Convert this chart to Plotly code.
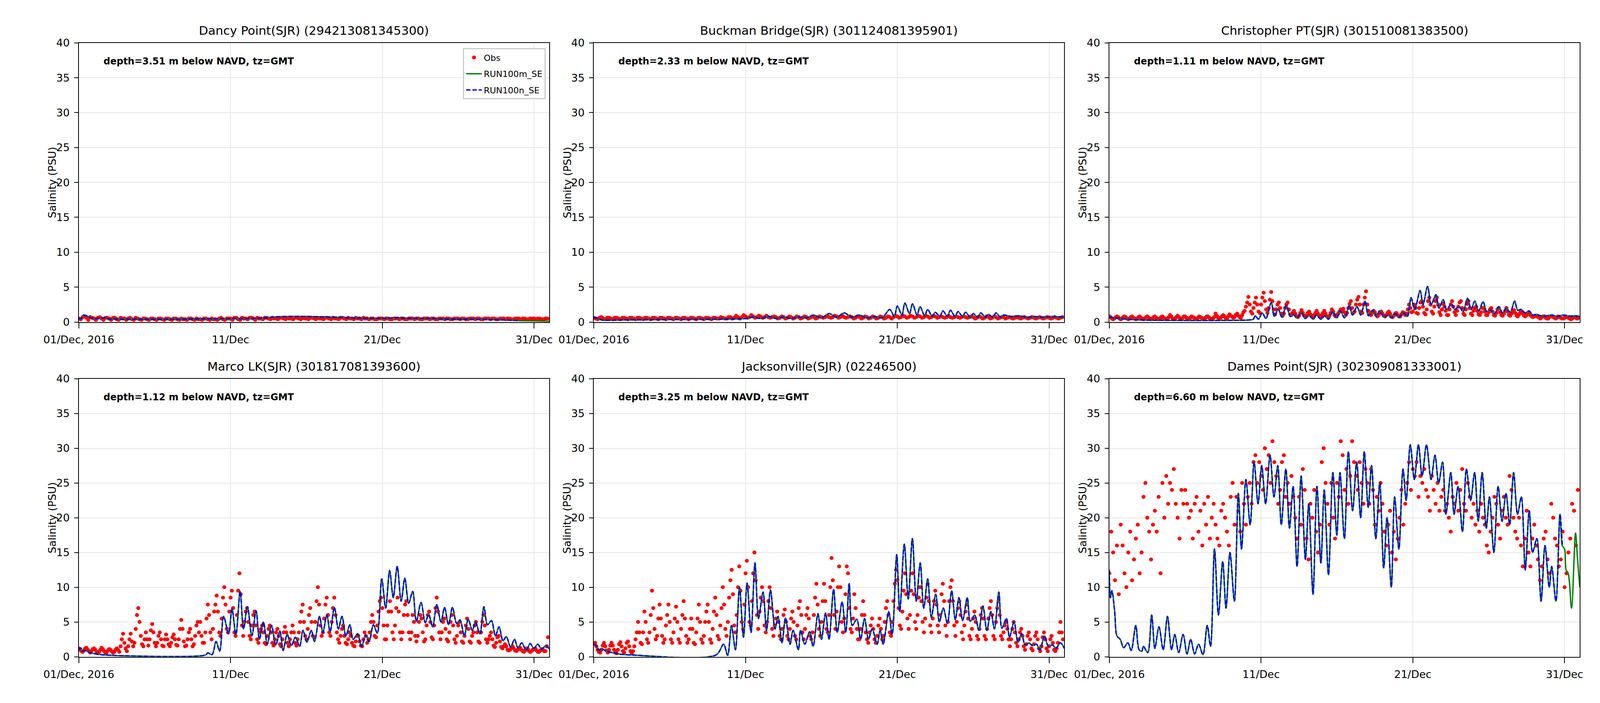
import numpy as np
import pandas as pd
import plotly.graph_objects as go
from plotly.subplots import make_subplots

# ---------------- DATA ----------------
titles = [
    "Dancy Point(SJR) (294213081345300)",
    "Buckman Bridge(SJR) (301124081395901)",
    "Christopher PT(SJR) (301510081383500)",
    "Marco LK(SJR) (301817081393600)",
    "Jacksonville(SJR) (02246500)",
    "Dames Point(SJR) (302309081333001)",
]
depths = ["3.51", "2.33", "1.11", "1.12", "3.25", "6.60"]
series_names = ["Obs", "RUN100m_SE", "RUN100n_SE"]
xtick_days = [1, 11, 21, 31]
xtick_text = ["01/Dec, 2016", "11/Dec", "21/Dec", "31/Dec"]
ytick_vals = [0, 5, 10, 15, 20, 25, 30, 35, 40]

# observations, one row per day (Dec 1 .. Dec 31); 3-hourly rows (8) or 2-hourly rows (12)
dancy_obs = [
    [0.5,0.4,0.7,0.8,0.6,0.3,0.7,0.6],[0.5,0.3,0.6,0.7,0.5,0.3,0.6,0.6],
    [0.5,0.3,0.6,0.6,0.4,0.3,0.6,0.5],[0.5,0.3,0.5,0.6,0.4,0.3,0.6,0.5],
    [0.4,0.3,0.5,0.5,0.4,0.3,0.5,0.5],[0.4,0.3,0.5,0.5,0.4,0.3,0.5,0.5],
    [0.4,0.3,0.5,0.5,0.4,0.3,0.5,0.4],[0.4,0.3,0.5,0.5,0.4,0.3,0.5,0.4],
    [0.4,0.3,0.5,0.5,0.4,0.3,0.5,0.4],[0.4,0.3,0.5,0.6,0.4,0.3,0.5,0.5],
    [0.5,0.3,0.6,0.6,0.4,0.3,0.6,0.5],[0.5,0.4,0.6,0.6,0.5,0.3,0.6,0.5],
    [0.5,0.4,0.6,0.6,0.5,0.4,0.6,0.5],[0.5,0.4,0.6,0.6,0.5,0.4,0.6,0.5],
    [0.5,0.4,0.6,0.6,0.5,0.4,0.6,0.5],[0.5,0.4,0.6,0.6,0.5,0.4,0.6,0.5],
    [0.5,0.4,0.6,0.6,0.5,0.4,0.6,0.5],[0.5,0.4,0.6,0.6,0.5,0.4,0.6,0.5],
    [0.5,0.4,0.6,0.5,0.5,0.4,0.6,0.5],[0.5,0.4,0.5,0.5,0.4,0.4,0.5,0.5],
    [0.5,0.4,0.5,0.5,0.4,0.4,0.5,0.5],[0.5,0.4,0.5,0.5,0.4,0.4,0.5,0.5],
    [0.5,0.4,0.5,0.5,0.4,0.4,0.5,0.5],[0.5,0.4,0.5,0.5,0.4,0.4,0.5,0.5],
    [0.5,0.4,0.5,0.5,0.4,0.4,0.5,0.5],[0.5,0.4,0.5,0.5,0.4,0.4,0.5,0.5],
    [0.5,0.4,0.5,0.5,0.4,0.4,0.5,0.5],[0.5,0.4,0.5,0.5,0.4,0.4,0.5,0.5],
    [0.5,0.4,0.5,0.5,0.4,0.4,0.5,0.5],[0.5,0.4,0.5,0.5,0.4,0.4,0.5,0.5],
    [0.5,0.4,0.5,0.5,0.4,0.4,0.5,0.5],
]
buckman_obs = [
    [0.6,0.5,0.4,0.6,0.7,0.5,0.4,0.6],[0.6,0.5,0.4,0.6,0.6,0.5,0.4,0.6],
    [0.6,0.5,0.4,0.6,0.6,0.5,0.4,0.6],[0.6,0.5,0.4,0.6,0.6,0.5,0.4,0.6],
    [0.6,0.5,0.4,0.6,0.6,0.5,0.4,0.6],[0.6,0.5,0.4,0.6,0.6,0.5,0.4,0.6],
    [0.6,0.5,0.4,0.6,0.6,0.5,0.4,0.6],[0.6,0.5,0.4,0.6,0.6,0.5,0.4,0.6],
    [0.6,0.5,0.5,0.7,0.6,0.5,0.5,0.7],[0.7,0.5,0.6,0.9,0.7,0.5,0.7,1.0],
    [0.8,0.6,0.7,1.0,0.8,0.6,0.7,0.9],[0.8,0.6,0.7,0.9,0.7,0.6,0.7,0.8],
    [0.7,0.5,0.6,0.8,0.7,0.5,0.6,0.8],[0.7,0.5,0.6,0.8,0.7,0.5,0.6,0.8],
    [0.7,0.5,0.6,0.8,0.7,0.5,0.6,0.8],[0.7,0.6,0.7,0.9,0.7,0.6,0.7,0.9],
    [0.8,0.6,0.7,0.9,0.7,0.6,0.7,0.8],[0.7,0.5,0.6,0.8,0.7,0.5,0.6,0.8],
    [0.7,0.5,0.6,0.8,0.7,0.5,0.6,0.8],[0.7,0.5,0.6,0.8,0.7,0.5,0.7,0.9],
    [0.8,0.6,0.7,0.9,0.8,0.6,0.7,0.9],[0.8,0.6,0.7,0.9,0.8,0.6,0.7,0.9],
    [0.8,0.6,0.7,0.9,0.8,0.6,0.7,0.8],[0.7,0.6,0.7,0.9,0.7,0.6,0.7,0.8],
    [0.7,0.6,0.7,0.8,0.7,0.6,0.7,0.8],[0.7,0.5,0.6,0.8,0.7,0.5,0.6,0.8],
    [0.7,0.5,0.6,0.8,0.7,0.5,0.6,0.7],[0.7,0.5,0.6,0.7,0.6,0.5,0.6,0.7],
    [0.6,0.5,0.6,0.7,0.6,0.5,0.6,0.7],[0.6,0.5,0.6,0.7,0.6,0.5,0.6,0.7],
    [0.6,0.5,0.6,0.7,0.6,0.5,0.6,0.7],
]
christopher_obs = [
    [0.8,0.7,0.5,0.4,0.5,0.7,0.8,0.7,0.5,0.4,0.5,0.7],[0.8,0.7,0.5,0.4,0.5,0.7,0.8,0.6,0.5,0.4,0.5,0.7],
    [0.8,0.6,0.5,0.4,0.5,0.7,0.8,0.6,0.5,0.4,0.5,0.7],[0.8,0.6,0.5,0.4,0.5,0.7,0.8,0.6,0.5,0.4,0.5,0.7],
    [1.0,0.8,0.5,0.4,0.5,0.7,0.9,0.7,0.5,0.4,0.6,0.8],[0.8,0.6,0.5,0.4,0.6,0.8,0.7,0.6,0.5,0.4,0.6,0.8],
    [0.7,0.6,0.5,0.4,0.6,0.8,0.8,0.6,0.5,0.4,0.5,0.7],[1.2,0.9,0.6,0.5,0.6,0.8,1.0,0.8,0.6,0.5,0.8,1.1],
    [0.9,0.8,0.6,0.7,1.0,1.2,0.9,0.7,0.6,1.0,1.4,1.6],[2.2,2.8,3.6,2.5,1.5,1.2,2.0,2.8,3.5,2.5,1.5,1.3],
    [2.5,3.5,4.2,3.0,1.8,1.3,2.0,3.2,4.3,3.0,1.8,1.1],[1.8,2.5,2.8,2.0,1.2,0.9,1.2,2.0,2.5,2.8,1.8,1.1],
    [1.0,1.3,1.6,1.2,0.8,0.7,0.9,1.3,1.7,1.3,0.9,0.7],[1.0,1.3,1.5,1.1,0.8,0.7,1.0,1.3,1.6,1.2,0.9,0.7],
    [1.0,1.3,1.6,1.2,0.8,0.7,0.9,1.3,1.8,1.5,1.0,0.8],[1.0,1.2,1.5,1.8,1.6,1.9,1.4,1.0,1.3,2.0,2.6,3.0],
    [2.0,1.3,1.5,2.5,3.2,3.6,2.5,1.5,1.3,2.5,3.5,4.4],[2.5,1.6,1.1,1.0,1.3,1.6,1.4,1.0,0.8,1.0,1.3,1.5],
    [1.2,0.9,0.8,1.0,1.3,1.5,1.2,0.8,0.7,0.9,1.2,1.3],[1.0,0.8,0.8,1.1,1.4,1.3,1.0,1.2,1.8,2.5,2.0,1.4],
    [1.5,2.5,2.0,1.3,1.2,2.0,2.8,3.0,2.2,1.3,1.1,1.8],[3.0,3.5,2.5,1.5,1.2,2.2,3.0,3.5,2.5,1.4,1.0,1.8],
    [2.6,2.2,1.6,1.0,1.0,1.8,2.5,3.0,2.2,1.4,1.0,1.6],[2.2,2.8,3.0,2.0,1.2,1.0,1.8,2.6,3.0,2.0,1.2,1.0],
    [1.6,2.0,2.2,1.6,1.1,1.0,1.4,2.0,2.0,1.5,1.0,1.0],[1.4,1.8,2.0,1.5,1.0,0.9,1.3,1.8,2.0,1.4,1.0,0.9],
    [1.2,1.6,2.0,1.5,1.0,0.9,1.2,1.6,1.7,1.3,0.9,0.8],[1.1,1.4,1.5,1.2,0.9,0.8,1.0,1.3,1.2,1.0,0.8,0.7],
    [0.8,0.9,0.9,0.7,0.6,0.5,0.7,0.8,0.8,0.6,0.5,0.5],[0.7,0.8,0.8,0.7,0.6,0.5,0.6,0.8,0.7,0.6,0.5,0.5],
    [0.6,0.8,0.7,0.6,0.5,0.4,0.5,0.7,0.7,0.6,0.5,0.6],
]
marco_obs = [
    [1.2,1.0,0.8,0.7,0.9,1.2,1.3,1.0,0.8,0.6,0.8,1.1],[1.2,1.0,0.7,0.5,0.7,1.0,1.3,1.1,0.8,0.5,0.6,0.9],
    [1.1,1.0,0.8,0.6,0.7,1.0,1.2,1.0,0.7,1.5,2.5,3.3],[2.0,1.2,0.8,1.5,2.5,3.3,2.2,1.5,2.0,4.0,6.0,7.0],
    [5.0,3.0,1.8,1.5,2.5,3.5,2.5,1.6,2.5,3.8,4.7,3.5],[2.0,1.5,2.0,3.0,3.5,2.5,1.6,1.5,2.5,3.2,2.5,1.8],
    [1.5,2.0,2.8,3.2,2.5,1.7,1.6,2.5,4.0,5.3,4.0,2.2],[1.5,1.6,2.5,3.5,4.0,2.5,1.5,1.8,3.0,4.5,5.0,3.5],
    [5.0,3.0,2.0,2.0,3.5,5.5,7.5,6.0,3.5,2.5,4.0,6.5],[7.5,8.8,6.5,3.5,3.0,5.5,8.5,10.0,7.5,4.0,3.5,6.5],
    [8.5,9.5,7.0,3.5,3.0,6.0,9.5,12.0,9.0,4.5,3.0,5.0],[6.5,7.0,5.0,3.0,2.5,4.5,6.0,6.5,4.5,2.5,2.0,3.5],
    [4.0,4.5,3.5,2.0,1.8,3.0,4.0,4.5,3.5,2.0,1.6,2.5],[3.5,4.0,3.0,1.8,1.5,2.5,3.5,4.3,3.5,2.0,1.5,2.5],
    [3.5,4.5,3.5,2.0,1.6,2.5,3.5,5.0,6.5,7.5,5.0,3.0],[2.5,4.0,6.0,7.0,5.0,3.0,2.8,5.0,8.0,10.0,7.5,4.5],
    [3.0,3.5,5.5,7.5,8.5,6.0,3.5,3.0,5.0,7.0,8.5,6.0],[3.5,2.5,2.0,3.0,4.0,4.5,3.0,2.0,1.8,2.5,3.5,3.0],
    [2.0,1.6,1.5,2.2,3.0,3.0,2.2,1.6,1.5,2.5,3.5,3.0],[2.0,2.5,3.5,5.0,6.0,5.0,3.0,2.8,4.5,6.5,8.0,8.5],
    [7.0,4.5,2.5,2.5,4.5,6.5,8.0,6.5,3.5,2.5,4.5,7.0],[8.5,6.5,3.5,2.5,3.5,6.0,7.5,8.0,6.0,3.5,2.5,3.5],
    [6.0,5.0,3.0,2.2,3.0,5.0,6.0,5.5,3.5,2.2,2.5,4.5],[6.0,6.5,5.0,2.8,2.5,4.5,7.0,8.5,6.5,3.5,2.5,3.5],
    [5.0,5.5,4.0,2.5,2.2,3.5,5.0,6.0,4.5,2.5,2.0,3.0],[4.5,5.0,3.5,2.2,2.0,3.0,4.5,5.5,4.0,2.2,2.0,3.0],
    [3.5,4.5,5.0,3.5,2.2,2.0,3.5,5.0,6.0,4.5,2.5,2.0],[2.5,3.0,3.5,2.5,1.6,1.4,2.0,2.8,3.0,2.2,1.4,1.2],
    [1.5,1.8,1.5,1.0,0.9,1.0,1.3,1.5,1.2,0.9,0.8,1.0],[1.2,1.3,1.0,0.8,0.7,0.9,1.2,1.1,0.8,0.7,0.8,1.0],
    [1.1,1.2,0.9,0.7,0.7,0.9,1.1,1.0,0.8,0.8,1.5,2.8],
]
jax_obs = [
    [1.8,2.0,1.5,1.0,0.7,0.6,1.0,1.6,2.0,1.5,0.9,0.6],[1.0,1.6,2.0,1.6,1.0,0.6,0.5,1.0,1.8,2.1,1.5,0.8],
    [0.6,1.2,2.0,2.2,1.5,0.8,0.5,0.8,1.5,2.5,3.5,5.0],[3.5,2.0,1.8,3.5,6.5,5.0,2.5,2.0,3.5,6.0,9.5,7.0],
    [4.0,2.5,3.0,5.5,7.5,5.5,3.0,2.0,2.5,4.5,6.0,7.5],[5.0,2.5,2.0,3.5,5.5,7.2,5.0,2.5,2.0,4.0,6.0,8.0],
    [5.5,3.0,2.0,2.5,4.0,5.5,4.0,2.0,1.8,3.5,5.5,7.5],[5.0,2.5,2.0,3.0,5.0,6.5,7.5,5.0,2.5,2.0,4.0,6.5],
    [8.5,6.0,3.0,2.5,4.5,7.0,10.0,7.5,4.0,3.0,5.0,8.5],[11.0,12.5,9.0,4.5,3.5,6.0,10.0,13.0,9.5,5.0,4.0,7.5],
    [12.0,13.8,10.0,5.0,4.5,8.0,12.0,15.0,11.0,6.0,4.0,6.5],[8.5,10.0,8.0,4.5,3.5,5.0,8.0,10.0,7.0,4.0,3.0,4.5],
    [5.5,6.5,5.0,3.0,2.5,4.0,6.0,6.8,5.0,3.0,2.5,4.0],[5.5,6.5,5.0,3.0,2.5,4.5,7.0,8.0,6.0,3.5,2.5,4.0],
    [6.0,7.0,5.5,3.0,2.5,3.5,6.0,8.5,10.5,7.5,4.0,3.0],[5.0,8.0,10.5,8.0,4.0,3.5,6.0,10.0,14.2,11.0,6.0,4.0],
    [6.5,10.0,13.0,10.0,5.0,3.5,5.5,9.0,13.0,12.0,7.0,4.0],[3.5,5.5,9.0,7.0,4.0,2.5,2.5,4.0,6.0,8.0,6.0,3.5],
    [2.5,2.0,3.5,4.5,5.5,4.0,2.5,2.0,3.0,4.5,5.5,4.0],[2.5,3.0,5.0,7.0,8.0,6.0,3.5,3.0,5.0,8.0,10.5,12.5],
    [11.0,7.0,4.5,4.0,6.5,9.5,12.0,9.0,5.5,4.0,6.0,9.5],[12.0,9.0,5.0,4.0,6.0,8.5,10.0,8.0,5.0,3.5,5.5,8.5],
    [10.5,8.0,4.5,3.5,5.5,8.0,9.5,7.5,4.5,3.5,6.0,9.0],[10.5,8.0,4.5,3.0,5.0,8.0,10.0,11.0,8.0,4.5,3.0,5.0],
    [7.0,8.0,6.0,3.5,2.5,4.5,6.5,7.5,5.5,3.0,2.5,4.0],[5.5,6.5,5.0,3.0,2.5,4.0,6.0,7.0,5.5,3.0,2.5,4.0],
    [5.5,7.0,8.0,6.0,3.0,2.5,5.0,7.0,8.0,6.0,3.0,2.5],[3.5,4.5,5.0,4.0,2.5,1.5,2.5,4.0,5.0,3.5,2.0,1.5],
    [2.5,3.5,4.0,3.0,1.5,1.0,1.8,3.0,3.5,2.5,1.2,0.9],[1.8,3.0,3.5,2.5,1.2,0.8,1.5,2.8,3.5,2.5,1.2,0.8],
    [1.5,2.5,3.0,2.0,1.0,0.8,1.2,2.0,3.5,5.0,3.5,2.5],
]
dames_obs = [
    [12,18,15,11,16,9,19,16],[12,10,15,18,11,14,17,19],
    [12,15,23,25,20,18,14,19],[21,18,23,12,25,20,26,22],
    [25,24,27,22,20,17,24,22],[24,22,20,21,17,22,23,18],
    [21,16,22,19,23,17,20,22],[19,17,16,21,22,20,18,16],
    [23,25,19,23,21,18,25,22],[19,23,25,22,28,29,25,28],
    [26,24,30,27,29,25,31,28],[26,22,24,28,29,23,25,22],
    [26,23,20,17,23,19,27,24],[17,14,22,20,24,18,15,19],
    [28,30,25,22,19,25,20,17],[25,23,31,29,24,27,22,26],
    [31,28,26,24,28,25,22,27],[25,22,27,24,19,23,21,25],
    [22,18,16,19,21,15,18,14],[17,20,24,19,22,25,28,24],
    [27,26,28,23,26,25,27,24],[23,21,26,24,22,25,21,23],
    [24,21,22,20,18,23,22,25],[21,24,27,22,21,25,23,20],
    [22,19,21,18,22,20,19,16],[15,18,20,23,22,19,17,21],
    [23,20,19,26,24,20,18,17],[20,16,13,17,21,15,13,17],
    [19,16,14,11,13,17,18,14],[12,22,20,17,16,13,14,18],
    [10,12,15,17,22,21,16,24],
]

# model series: (day of December, salinity) at turning points
dancy_day = [1.0,1.15,1.3,1.5,1.8,2.2,2.6,3.0,5.0,7.0,9.0,11.0,12.0,13.0,14.0,15.0,16.0,17.0,
             18.0,19.0,20.0,21.0,22.0,23.0,24.0,25.0,26.0,27.0,28.0,29.0,30.0,31.0,32.0]
dancy_val = [0.5,0.5,1.0,0.9,0.6,0.5,0.6,0.45,0.4,0.4,0.45,0.5,0.5,0.55,0.75,0.8,0.8,0.75,
             0.7,0.6,0.55,0.55,0.6,0.55,0.55,0.45,0.4,0.4,0.35,0.3,0.2,0.15,0.1]

buckman_day = [1.0,1.2,1.5,3.0,6.0,9.0,11.0,11.5,12.0,12.5,13.0,13.5,14.0,14.5,15.0,15.5,16.0,16.5,
               17.0,17.5,18.0,18.5,19.0,19.5,20.0,20.5,20.8,21.0,21.3,21.5,21.8,22.0,22.3,22.5,22.8,
               23.0,23.3,23.5,23.8,24.0,24.3,24.5,24.8,25.0,25.3,25.5,25.8,26.0,26.3,26.5,26.8,27.0,
               27.3,27.5,27.8,28.0,28.5,29.0,29.5,30.0,30.5,31.0,32.0]
buckman_val = [0.6,0.6,0.3,0.3,0.35,0.4,0.5,0.7,0.5,0.8,0.5,0.7,0.5,0.7,0.6,1.0,0.6,1.2,
               0.7,1.3,0.7,1.0,0.6,0.8,0.6,1.8,0.8,2.3,1.0,2.7,1.2,2.6,1.0,2.2,0.9,
               1.8,0.8,1.4,0.8,1.6,0.8,1.7,0.8,1.5,0.8,1.4,0.7,1.2,0.7,1.3,0.7,1.1,
               0.7,1.3,0.7,1.0,0.8,0.9,0.7,0.8,0.7,0.8,0.7]

christopher_day = [1.0,1.3,1.7,2.2,3.0,10.19,10.49,10.62,10.82,11.08,11.32,11.67,11.87,12.13,12.37,
                   12.66,12.92,13.12,13.36,13.65,13.91,14.15,14.45,14.64,14.94,15.2,15.44,15.73,15.99,
                   16.23,16.49,16.82,17.02,17.32,17.57,17.85,18.07,18.35,18.6,18.8,19.1,19.36,19.59,
                   19.85,20.09,20.39,20.64,20.88,21.12,21.48,21.67,21.97,22.21,22.52,22.72,23.0,23.22,
                   23.55,23.75,24.05,24.31,24.6,24.84,25.08,25.34,25.63,25.87,26.13,26.39,26.66,26.92,
                   27.16,27.42,27.71,27.91,28.15,28.41,28.66,28.9,29.14,29.44,29.8,30.2,30.5,30.9,
                   31.3,31.7,32.0]
christopher_val = [0.7,0.6,0.5,0.4,0.3,0.3,0.4,0.9,0.4,1.3,0.5,2.8,0.8,1.8,0.7,
                   2.4,0.8,1.1,0.6,1.3,0.5,0.9,0.4,1.0,0.4,0.9,0.4,1.5,0.6,
                   1.6,0.6,2.4,1.0,2.2,1.0,3.0,0.9,1.7,0.8,1.6,0.7,1.0,0.6,
                   1.2,0.7,1.3,0.8,3.5,1.8,4.5,2.5,5.1,2.5,3.9,2.0,3.2,1.8,
                   2.6,1.8,2.2,1.5,3.4,1.8,3.0,1.6,2.9,1.5,1.7,1.2,2.2,1.3,
                   2.0,1.4,3.0,1.7,1.8,1.3,1.6,1.0,1.1,0.9,0.9,1.0,0.8,1.0,
                   0.85,0.9,0.8]

marco_day = [1.0,1.1,1.28,1.4,1.72,2.15,2.7,9.35,9.5,9.78,10.04,10.28,10.54,10.87,11.09,11.35,
             11.63,11.85,12.11,12.4,12.68,12.9,13.16,13.42,13.7,13.98,14.25,14.46,14.73,15.0,
             15.27,15.55,15.77,16.03,16.32,16.53,16.86,17.08,17.34,17.56,17.84,18.1,18.34,18.6,
             18.86,19.08,19.37,19.63,19.91,20.13,20.41,20.67,20.96,21.22,21.48,21.72,21.98,22.24,
             22.48,22.74,23.0,23.24,23.55,23.83,24.05,24.31,24.59,24.86,25.1,25.36,25.62,25.9,
             26.12,26.4,26.66,26.93,27.14,27.43,27.69,27.93,28.19,28.45,28.69,28.95,29.17,29.45,
             29.71,29.93,30.19,30.48,30.74,30.98,31.24,31.5,31.78,32.0]
marco_val = [1.0,1.3,0.8,0.9,0.6,0.4,0.25,0.25,0.55,0.3,2.2,0.8,5.8,3.3,6.9,3.2,
             9.4,4.0,7.2,3.0,6.6,2.5,5.0,1.8,4.5,1.7,3.7,0.9,3.2,1.6,
             2.8,1.5,3.8,2.1,3.8,2.2,5.8,3.5,6.0,3.6,7.1,4.0,5.8,3.0,
             4.6,2.5,3.3,1.5,3.1,2.2,4.6,3.4,11.2,7.0,12.4,8.5,13.0,8.0,
             11.3,7.7,9.4,5.1,7.8,4.9,6.1,4.3,7.5,5.0,7.1,4.6,7.1,4.8,
             5.3,3.0,5.4,3.8,5.0,3.3,7.2,4.6,5.2,3.0,4.3,2.3,2.9,1.4,
             2.5,1.3,2.0,0.9,1.9,1.2,1.8,1.1,1.6,1.1]

jax_day = [1.0,1.2,1.35,1.5,1.8,2.2,2.8,3.5,9.05,9.55,9.82,10.07,10.33,10.6,10.86,11.1,11.36,
           11.62,11.85,12.15,12.38,12.64,12.94,13.14,13.4,13.63,13.93,14.13,14.48,14.62,14.9,
           15.22,15.45,15.77,16.0,16.27,16.5,16.8,17.04,17.36,17.6,17.83,18.03,18.33,18.58,18.84,
           19.1,19.34,19.67,19.87,20.07,20.43,20.66,20.96,21.16,21.46,21.72,21.99,22.25,22.51,
           22.74,23.0,23.24,23.53,23.77,24.03,24.3,24.58,24.82,25.06,25.3,25.61,25.81,26.1,26.37,
           26.64,26.9,27.16,27.4,27.69,27.89,28.19,28.39,28.69,28.95,29.19,29.42,29.67,29.9,30.17,
           30.4,30.7,30.95,31.22,31.45,31.75,32.0]
jax_val = [1.8,1.5,0.9,1.2,0.8,0.6,0.35,0.25,0.25,1.8,0.2,4.5,1.0,10.0,2.8,10.6,3.5,
           13.5,5.5,9.3,3.8,9.6,4.0,5.8,2.0,5.6,1.8,3.8,1.0,3.8,1.8,
           3.6,1.5,6.2,2.5,6.3,2.5,9.7,3.5,7.9,3.5,10.5,4.5,5.4,2.5,5.5,
           2.5,4.0,1.8,3.8,1.8,6.5,3.2,14.7,6.5,16.2,8.3,17.0,8.0,13.5,
           7.0,11.2,5.7,9.0,5.0,7.0,4.8,9.5,5.3,8.5,5.2,8.5,5.1,6.0,3.8,
           7.3,3.8,6.5,4.0,9.3,4.1,5.5,2.8,5.0,2.1,3.3,1.7,2.0,1.6,1.8,
           1.0,3.0,1.5,1.7,1.2,2.0,1.2]

dames_day = [1.0,1.07,1.17,1.35,1.5,1.72,1.94,2.22,2.44,2.74,2.96,3.14,3.24,3.53,3.79,4.0,4.27,
             4.55,4.83,5.1,5.31,5.57,5.86,6.12,6.36,6.62,6.88,7.17,7.45,7.67,7.93,8.19,8.47,8.69,
             8.95,9.24,9.5,9.71,10.0,10.28,10.54,10.8,11.04,11.3,11.59,11.85,12.1,12.33,12.63,
             12.87,13.11,13.37,13.64,13.92,14.14,14.42,14.68,14.94,15.16,15.44,15.73,15.99,16.2,
             16.49,16.75,17.03,17.3,17.56,17.8,18.06,18.28,18.56,18.82,19.08,19.3,19.58,19.8,
             20.08,20.35,20.56,20.83,21.1,21.37,21.61,21.9,22.2,22.46,22.7,22.96,23.18,23.5,23.72,
             23.98,24.27,24.53,24.81,25.07,25.31,25.57,25.84,26.05,26.34,26.62,26.88,27.14,27.38,
             27.64,27.9,28.15,28.41,28.67,28.89,29.17,29.45,29.71,29.99,30.15,30.43,30.7,30.85,
             31.0,31.1,31.24,31.46,31.72,31.85,32.0]
dames_val = [12.5,8.5,9.5,6.5,3.0,2.5,1.3,2.0,0.9,4.5,1.0,0.8,1.5,0.6,6.0,1.2,4.3,
             1.0,5.8,1.0,3.2,0.6,3.2,0.4,2.5,0.4,1.8,0.3,4.5,1.5,15.5,6.0,13.7,7.0,
             15.0,8.0,23.5,15.5,25.5,19.0,28.0,22.0,27.5,22.0,29.0,23.0,27.5,19.0,27.0,
             18.5,24.5,13.0,26.0,14.0,22.0,9.0,24.5,13.5,24.0,11.8,26.5,17.5,26.5,
             17.0,29.5,21.0,28.0,20.0,29.5,21.5,27.5,17.0,25.0,12.8,20.0,10.0,23.0,
             15.5,27.0,22.5,30.5,25.5,30.5,26.0,30.5,25.5,29.0,25.0,28.0,20.5,26.5,20.5,
             24.5,18.0,27.0,22.5,26.5,19.5,26.5,18.5,23.0,15.0,24.5,19.5,23.5,19.0,
             26.5,20.5,23.0,12.5,21.0,15.0,17.0,8.0,16.0,10.0,13.0,8.0,20.5,16.0,
             15.5,12.5,12.0,7.0,17.8,14.2,10.0]

# last day on which RUN100n_SE output is available for each station
run_n_end = [30.9, 32.0, 32.0, 32.0, 32.0, 30.9]

obs_all = [dancy_obs, buckman_obs, christopher_obs, marco_obs, jax_obs, dames_obs]
mod_days = [dancy_day, buckman_day, christopher_day, marco_day, jax_day, dames_day]
mod_vals = [dancy_val, buckman_val, christopher_val, marco_val, jax_val, dames_val]

# ---------------- LAYOUT ----------------
# The browser viewport is 4096x1800 (with an 8px body margin); the layout is
# defined in reference pixels (6000x1800) and mapped to paper fractions.
W, H = 4080, 1784
RW, RH = 6000.0, 1800.0
fx = lambda X: X / RW
fy = lambda Y: 1 - Y / RH

base = pd.Timestamp("2016-12-01")

def to_time(days):
    return base + pd.to_timedelta(np.asarray(days, dtype=float) - 1.0, unit="D")

def obs_times(rows):
    per_day = len(rows[0])
    return pd.date_range("2016-12-01", periods=len(rows) * per_day,
                         freq="%dh" % (24 // per_day))

col_px = [(155, 1970), (2142, 3957), (4131, 5946)]
row_px = [(88, 822), (971, 1702)]

FONT = "DejaVu Sans"
F_TICK, F_TITLE, F_NOTE, F_LEG = 27, 31, 24, 22

fig = make_subplots(rows=2, cols=3)

for i in range(6):
    r, c = divmod(i, 3)
    obs = [v for day in obs_all[i] for v in day]
    d = np.asarray(mod_days[i])
    v = np.asarray(mod_vals[i])
    tm = to_time(d)
    mask = d <= run_n_end[i]
    first = (i == 0)
    fig.add_trace(go.Scatter(x=obs_times(obs_all[i]), y=obs, mode="markers", name=series_names[0],
                             legendgroup="g0",
                             marker=dict(color="#ff0000", size=10, line=dict(width=0)),
                             showlegend=first), row=r + 1, col=c + 1)
    fig.add_trace(go.Scatter(x=tm, y=v, mode="lines", name=series_names[1],
                             legendgroup="g1",
                             line=dict(color="#008000", width=3.5, shape="spline", smoothing=0.9),
                             showlegend=first), row=r + 1, col=c + 1)
    fig.add_trace(go.Scatter(x=tm[mask], y=v[mask], mode="lines", name=series_names[2],
                             legendgroup="g2",
                             line=dict(color="#0000ff", width=3.5, dash="11px,5px",
                                       shape="spline", smoothing=0.9),
                             showlegend=first), row=r + 1, col=c + 1)

annotations = []
for i in range(6):
    r, c = divmod(i, 3)
    x0, x1 = col_px[c]
    y0, y1 = row_px[r]
    ax = "" if i == 0 else str(i + 1)
    fig.layout["xaxis" + ax].update(
        domain=[fx(x0), fx(x1)],
        range=[base, pd.Timestamp("2017-01-01")],
        tickvals=list(to_time(xtick_days)), ticktext=xtick_text,
        showgrid=True, gridcolor="#e6e6e6", gridwidth=2,
        showline=True, linecolor="black", linewidth=2.2, mirror=True,
        ticks="outside", ticklen=14, tickwidth=2.2, tickcolor="black",
        tickfont=dict(family=FONT, size=F_TICK, color="black"),
        zeroline=False, ticklabelstandoff=6,
    )
    fig.layout["yaxis" + ax].update(
        domain=[fy(y1), fy(y0)],
        range=[0, 40], tickvals=ytick_vals,
        showgrid=True, gridcolor="#e6e6e6", gridwidth=2,
        showline=True, linecolor="black", linewidth=2.2, mirror=True,
        ticks="outside", ticklen=10, tickwidth=2.2, tickcolor="black",
        tickfont=dict(family=FONT, size=F_TICK, color="black"),
        zeroline=False, ticklabelstandoff=6,
    )
    annotations.append(dict(text=titles[i], x=fx((x0 + x1) / 2), y=fy(y0 - 33),
                            xref="paper", yref="paper", xanchor="center", yanchor="middle",
                            showarrow=False, font=dict(family=FONT, size=F_TITLE, color="black")))
    annotations.append(dict(text="Salinity (PSU)", x=fx(x0 - 103), y=fy((y0 + y1) / 2),
                            xref="paper", yref="paper", xanchor="center", yanchor="middle",
                            textangle=-90, showarrow=False,
                            font=dict(family=FONT, size=F_TICK, color="black")))
    annotations.append(dict(text="<b>depth=%s m below NAVD, tz=GMT</b>" % depths[i],
                            x=fx(x0 + 92), y=fy(y0 + 32),
                            xref="paper", yref="paper", xanchor="left", yanchor="top",
                            showarrow=False, font=dict(family=FONT, size=F_NOTE, color="black")))

fig.update_layout(
    width=W, height=H, margin=dict(l=0, r=0, t=0, b=0),
    paper_bgcolor="white", plot_bgcolor="white",
    font=dict(family=FONT, size=F_TICK, color="black"),
    annotations=annotations,
    legend=dict(x=fx(1957), y=fy(102), xanchor="right", yanchor="top",
                bgcolor="rgba(255,255,255,0.85)", bordercolor="#cccccc", borderwidth=3,
                font=dict(family=FONT, size=F_LEG, color="black"),
                itemwidth=40, tracegroupgap=10),
)

fig.write_html("out.html")
